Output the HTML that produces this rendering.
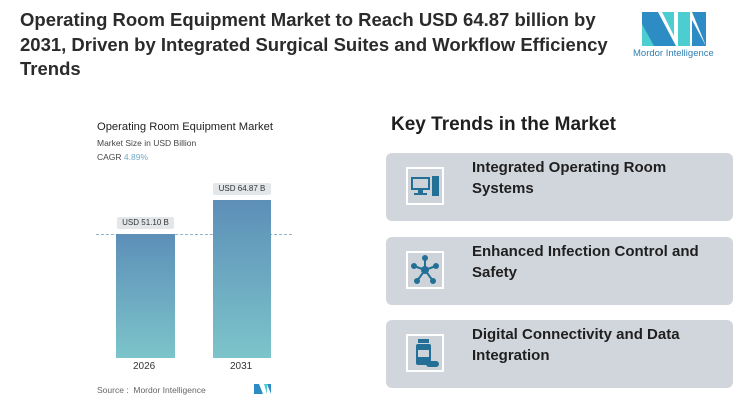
<!DOCTYPE html><html><head><style>
body{margin:0;width:750px;height:416px;background:#fff;font-family:"Liberation Sans",sans-serif;position:relative;overflow:hidden}
.a{position:absolute}
.t{left:20px;top:8px;font-size:18.5px;font-weight:bold;color:#2b2b2b;line-height:24.5px;width:600px}
.card{position:absolute;left:386px;width:347px;height:68px;background:#d1d6dc;border-radius:6px}
.ic{position:absolute;left:20px;top:14px;width:38px;height:38px;border:2px solid #fff;box-sizing:border-box;background:#cdd3d9}
.ct{position:absolute;left:86px;top:4px;font-size:15px;font-weight:bold;color:#1f1f1f;line-height:21px}
.lbl{position:absolute;background:#e4e7ea;font-size:8px;color:#333;text-align:center;height:12px;line-height:12px;border-radius:2px}
</style></head><body>
<div class="a t">Operating Room Equipment Market to Reach USD 64.87 billion by 2031, Driven by Integrated Surgical Suites and Workflow Efficiency Trends</div>
<svg class="a" style="left:640px;top:10px" width="70" height="38"><polygon points="2,2 18,2 36,36 2,36" fill="#2e8cc4"/><polygon points="2,14 14,36 2,36" fill="#4ccdd0"/><polygon points="22,2 34,2 34,26" fill="#4ccdd0"/><polygon points="38,2 50,2 50,36 38,36" fill="#4ccdd0"/><polygon points="52,2 66,2 66,36" fill="#2e8cc4"/><polygon points="52,10 66,36 52,36" fill="#2e8cc4"/></svg>
<div class="a" style="left:633px;top:48px;font-size:9.5px;color:#2f7fb3">Mordor Intelligence</div>
<div class="a" style="left:97px;top:121px;font-size:11.2px;color:#222">Operating Room Equipment Market</div>
<div class="a" style="left:97px;top:138px;font-size:8.5px;color:#444">Market Size in USD Billion</div>
<div class="a" style="left:97px;top:152px;font-size:8.5px;color:#444">CAGR <span style="color:#6fa9c9">4.89%</span></div>
<div class="a" style="left:96px;top:234px;width:196px;border-top:1px dashed #8fb6c6"></div>
<div class="a" style="left:116px;top:234px;width:59px;height:124px;background:linear-gradient(#5d8fb8,#7cc4ca)"></div>
<div class="a" style="left:213px;top:200px;width:58px;height:158px;background:linear-gradient(#5d8fb8,#7cc4ca)"></div>
<div class="lbl" style="left:117px;top:217px;width:57px">USD 51.10 B</div>
<div class="lbl" style="left:213px;top:183px;width:58px">USD 64.87 B</div>
<div class="a" style="left:133px;top:361px;font-size:10px;color:#333">2026</div>
<div class="a" style="left:230px;top:361px;font-size:10px;color:#333">2031</div>
<div class="a" style="left:97px;top:385px;font-size:8.5px;color:#666">Source :&nbsp; Mordor Intelligence</div>
<svg class="a" style="left:254px;top:384px" width="17" height="10"><polygon points="0,0 5,0 9,10 0,10" fill="#2e8cc4"/><polygon points="10,0 13,0 13,10" fill="#4ccdd0"/><polygon points="13,0 17,0 17,10" fill="#2e8cc4"/></svg>
<div class="a" style="left:391px;top:114px;font-size:19px;font-weight:bold;color:#1f1f1f">Key Trends in the Market</div>
<div class="card" style="top:153px"><div class="ic"><svg width="34" height="34"><rect x="3" y="8" width="19" height="13" fill="#236f96"/><rect x="5" y="10" width="15" height="9" fill="#cdd3d9"/><rect x="10" y="21" width="5" height="3" fill="#236f96"/><rect x="6" y="24" width="13" height="2" fill="#236f96"/><rect x="24" y="7" width="7" height="20" fill="#236f96"/></svg></div><div class="ct">Integrated Operating Room<br>Systems</div></div>
<div class="card" style="top:237px"><div class="ic"><svg width="34" height="34" stroke="#236f96" stroke-width="2" fill="#236f96"><line x1="17" y1="17" x2="17" y2="5"/><line x1="17" y1="17" x2="6" y2="13"/><line x1="17" y1="17" x2="28" y2="13"/><line x1="17" y1="17" x2="9" y2="28"/><line x1="17" y1="17" x2="25" y2="28"/><circle cx="17" cy="17" r="3"/><circle cx="17" cy="5" r="2"/><circle cx="6" cy="13" r="2"/><circle cx="28" cy="13" r="2"/><circle cx="9" cy="28" r="2"/><circle cx="25" cy="28" r="2"/></svg></div><div class="ct">Enhanced Infection Control and<br>Safety</div></div>
<div class="card" style="top:320px"><div class="ic"><svg width="34" height="34" fill="#236f96"><rect x="10" y="3" width="11" height="4"/><rect x="8" y="8" width="15" height="21" rx="2"/><rect x="10" y="14" width="11" height="7" fill="#cdd3d9"/><rect x="18" y="25" width="13" height="6" rx="3"/></svg></div><div class="ct">Digital Connectivity and Data<br>Integration</div></div>
</body></html>
